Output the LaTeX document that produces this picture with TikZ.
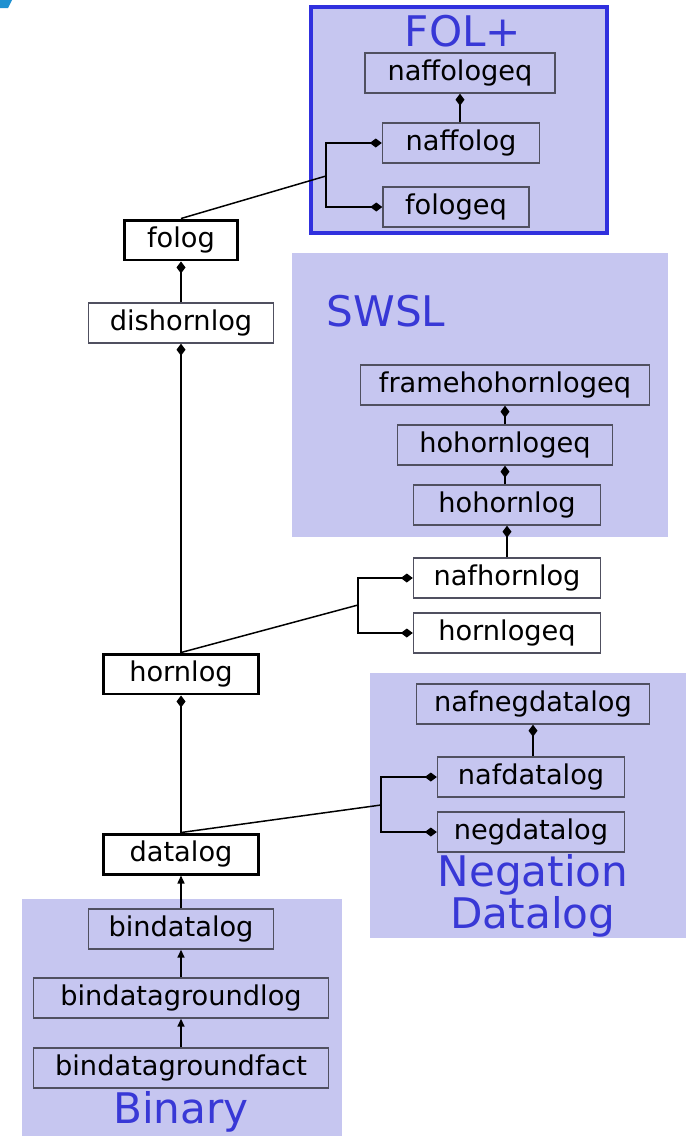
\documentclass[tikz,border=0pt]{standalone}
\usepackage{fontspec}
\setmainfont{DejaVu Sans}
\usetikzlibrary{arrows.meta}
\definecolor{grpfill}{RGB}{198,198,240}
\definecolor{grpline}{RGB}{48,48,222}
\definecolor{grptext}{RGB}{56,56,214}
\definecolor{boxline}{RGB}{80,80,96}
\newcommand{\titlefont}{\fontsize{24}{23.6}\selectfont\lineskiplimit=-50pt\relax}
\tikzset{
  lbox/.style={draw=boxline, line width=0.8pt, inner sep=0pt, minimum height=0.8cm, font=\fontsize{15.5}{18}\selectfont},
  plainbox/.style={lbox, fill=white},
  corebox/.style={lbox, draw=black, line width=1.7pt, fill=white},
  grptitle/.style={text=grptext, inner sep=0pt, align=center, font=\titlefont},
  link/.style={line width=0.85pt},
  dia/.style={link, -{Diamond[length=0.24cm,width=0.18cm]}},
  tri/.style={link, -{Triangle[length=0.16cm,width=0.14cm]}}
}
\begin{document}
\begin{tikzpicture}[x=0.02cm,y=-0.02cm]
\useasboundingbox (0,0) rectangle (686,1136);
\fill[fill={rgb,255:red,30;green,144;blue,208}] (0,0) -- (12,0) -- (8,8) -- (0,8) -- cycle;

\fill[grpfill] (311,7) rectangle (607,233);
\draw[grpline, line width=2.2pt] (311,7) rectangle (607,233);
\fill[grpfill] (292,253) rectangle (668,537);
\fill[grpfill] (370,673) rectangle (686,938);
\fill[grpfill] (22,899) rectangle (342,1136);

\node[grptitle] (tfol) at (463,31) {FOL+};
\node[grptitle] (tswsl) at (386,311) {SWSL};
\node[grptitle] (tneg) at (533,896) {Negation\\Datalog};
\node[grptitle] (tbin) at (181,1112) {Binary};

\node[lbox, minimum width=3.8cm] (naffologeq) at (460,73) {naffologeq};
\node[lbox, minimum width=3.14cm] (naffolog) at (461,143) {naffolog};
\node[lbox, minimum width=2.92cm] (fologeq) at (456,207) {fologeq};

\node[corebox, minimum width=2.26cm] (folog) at (181,240) {folog};
\node[plainbox, minimum width=3.7cm] (dishornlog) at (181,323) {dishornlog};
\node[corebox, minimum width=3.12cm] (hornlog) at (181,674) {hornlog};
\node[corebox, minimum width=3.12cm] (datalog) at (181,854) {datalog};

\node[lbox, minimum width=5.78cm] (framehohornlogeq) at (505,385) {framehohornlogeq};
\node[lbox, minimum width=4.3cm] (hohornlogeq) at (505,445) {hohornlogeq};
\node[lbox, minimum width=3.74cm] (hohornlog) at (507,505) {hohornlog};
\node[plainbox, minimum width=3.74cm] (nafhornlog) at (507,578) {nafhornlog};
\node[plainbox, minimum width=3.74cm] (hornlogeq) at (507,633) {hornlogeq};

\node[lbox, minimum width=4.66cm] (nafnegdatalog) at (533,704) {nafnegdatalog};
\node[lbox, minimum width=3.74cm] (nafdatalog) at (531,777) {nafdatalog};
\node[lbox, minimum width=3.74cm] (negdatalog) at (531,832) {negdatalog};

\node[lbox, minimum width=3.7cm] (bindatalog) at (181,929) {bindatalog};
\node[lbox, minimum width=5.9cm] (bindatagroundlog) at (181,998) {bindatagroundlog};
\node[lbox, minimum width=5.9cm] (bindatagroundfact) at (181,1068) {bindatagroundfact};

\coordinate (folbr) at (326,176);
\coordinate (swslbr) at (358,605);
\coordinate (negbr) at (381,805);

\draw[dia] (naffolog.north -| naffologeq.south) -- (naffologeq.south);
\draw[link] (folog.north) -- (folbr);
\draw[dia] (folbr) |- (naffolog.west);
\draw[dia] (folbr) |- (fologeq.west);

\draw[dia] (dishornlog.north) -- (folog.south);
\draw[dia] (hornlog.north) -- (dishornlog.south);
\draw[dia] (datalog.north) -- (hornlog.south);

\draw[dia] (hohornlogeq.north) -- (framehohornlogeq.south -| hohornlogeq.north);
\draw[dia] (hohornlog.north -| hohornlogeq.south) -- (hohornlogeq.south);
\draw[dia] (nafhornlog.north) -- (hohornlog.south);
\draw[link] (hornlog.north) -- (swslbr);
\draw[dia] (swslbr) |- (nafhornlog.west);
\draw[dia] (swslbr) |- (hornlogeq.west);

\draw[dia] (nafdatalog.north -| nafnegdatalog.south) -- (nafnegdatalog.south);
\draw[link] (datalog.north) -- (negbr);
\draw[dia] (negbr) |- (nafdatalog.west);
\draw[dia] (negbr) |- (negdatalog.west);

\draw[tri] (bindatalog.north) -- (datalog.south);
\draw[tri] (bindatagroundlog.north) -- (bindatalog.south);
\draw[tri] (bindatagroundfact.north) -- (bindatagroundlog.south);
\end{tikzpicture}
\end{document}
